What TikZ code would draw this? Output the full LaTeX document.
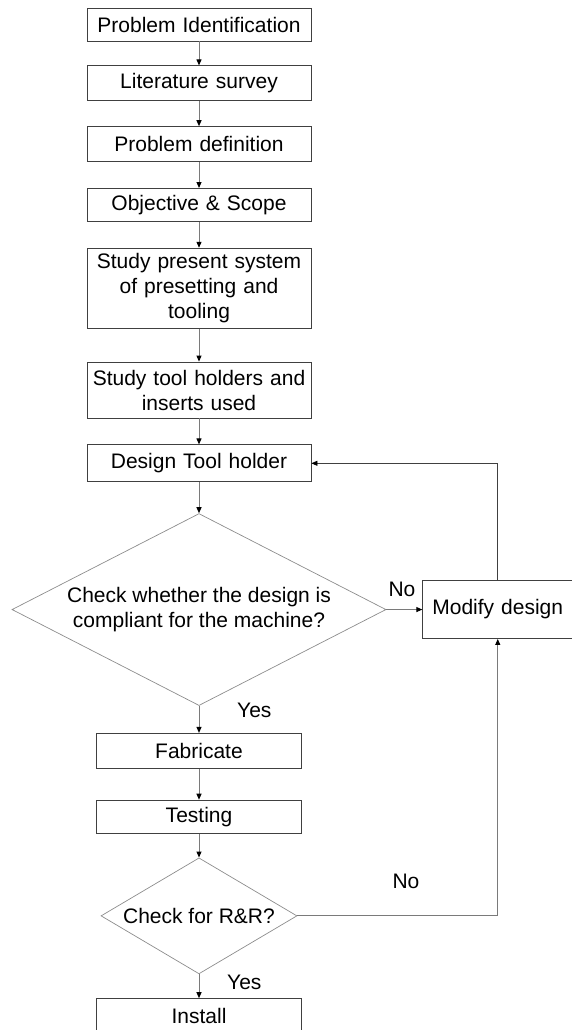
\documentclass[tikz,border=0pt]{standalone}
\usepackage{fontspec}
\setmainfont{Liberation Sans}
\usepackage{xcolor}
\usepackage{tikz}
\usetikzlibrary{shapes.geometric, arrows.meta, positioning}
\definecolor{boxline}{HTML}{404040}
\definecolor{diamline}{HTML}{8C8C8C}
\definecolor{flowgray}{HTML}{7A7A7A}
\tikzstyle{process} = [rectangle, minimum width=224pt, minimum height=34pt, text centered, draw=boxline, line width=0.8pt, font=\fontsize{21}{25}\selectfont, text width=216pt, inner xsep=4pt, inner ysep=1pt]
\tikzstyle{shortproc} = [process, minimum width=205pt, text width=197pt]
\tikzstyle{decision} = [diamond, draw=diamline, line width=0.7pt, align=center, inner sep=0pt, font=\fontsize{21}{25}\selectfont]
\tikzstyle{answer} = [inner sep=0pt, font=\fontsize{21}{25}\selectfont]
\tikzstyle{arrow} = [-{Triangle[length=6pt, width=5pt, color=black]}, line width=1pt, draw=flowgray]
\tikzstyle{looparrow} = [-{Triangle[length=6pt, width=5pt, color=black]}, line width=0.8pt, draw=boxline]

\begin{document}
\begin{tikzpicture}[node distance=26pt]
    \useasboundingbox (0,0) rectangle (572pt,-1030pt);

    % Study phase
    \node[process, minimum height=33pt] (ident) at (199pt,-24.5pt) {Problem Identification};
    \node[process, minimum height=35pt, below=24pt of ident] (survey) {Literature survey};
    \node[process, minimum height=35pt, below=25pt of survey] (define) {Problem definition};
    \node[process, minimum height=33pt, below=26pt of define] (scope) {Objective \& Scope};
    \node[process, minimum height=80pt, below=26pt of scope] (present) {Study present system\\of presetting and\\tooling};
    \node[process, minimum height=56pt, below=33pt of present] (holders) {Study tool holders and\\inserts used};
    \node[process, minimum height=37pt, below=26pt of holders] (design) {Design Tool holder};

    % Design check
    \node[decision, aspect=1.95, minimum width=374pt, minimum height=192pt, below=31pt of design] (comply) {Check whether the design is\\compliant for the machine?};
    \node[process, minimum width=150pt, text width=142pt, minimum height=58pt, right=36pt of comply] (modify) {Modify design};

    % Build and test
    \node[shortproc, minimum height=35pt, below=27pt of comply] (fab) {Fabricate};
    \node[shortproc, minimum height=33pt, below=31pt of fab] (test) {Testing};
    \node[decision, aspect=1.69, minimum width=196pt, minimum height=116pt, below=24pt of test] (rr) {Check for R\&R?};
    \node[shortproc, minimum height=34pt, below=24pt of rr] (install) {Install};

    % Answers
    \node[answer, anchor=south west] (no1) at ([xshift=2pt, yshift=13pt]comply.east) {No};
    \node[answer, anchor=north west] (yes1) at ([xshift=38pt, yshift=3pt]comply.south) {Yes};
    \node[answer, anchor=south west] (no2) at ([xshift=95pt, yshift=27pt]rr.east) {No};
    \node[answer, anchor=north west] (yes2) at ([xshift=28pt, yshift=-1pt]rr.south) {Yes};

    % Arrows
    \draw[arrow] (ident) -- (survey);
    \draw[arrow] (survey) -- (define);
    \draw[arrow] (define) -- (scope);
    \draw[arrow] (scope) -- (present);
    \draw[arrow] (present) -- (holders);
    \draw[arrow] (holders) -- (design);
    \draw[arrow] (design) -- (comply);
    \draw[arrow] (comply) -- (fab);
    \draw[arrow] (fab) -- (test);
    \draw[arrow] (test) -- (rr);
    \draw[arrow] (rr) -- (install);
    \draw[arrow] (comply.east) -- (modify.west);

    % Loops back
    \draw[looparrow] (modify.north) |- (design.east);
    \draw[arrow] (rr.east) -| (modify.south);
\end{tikzpicture}
\end{document}
